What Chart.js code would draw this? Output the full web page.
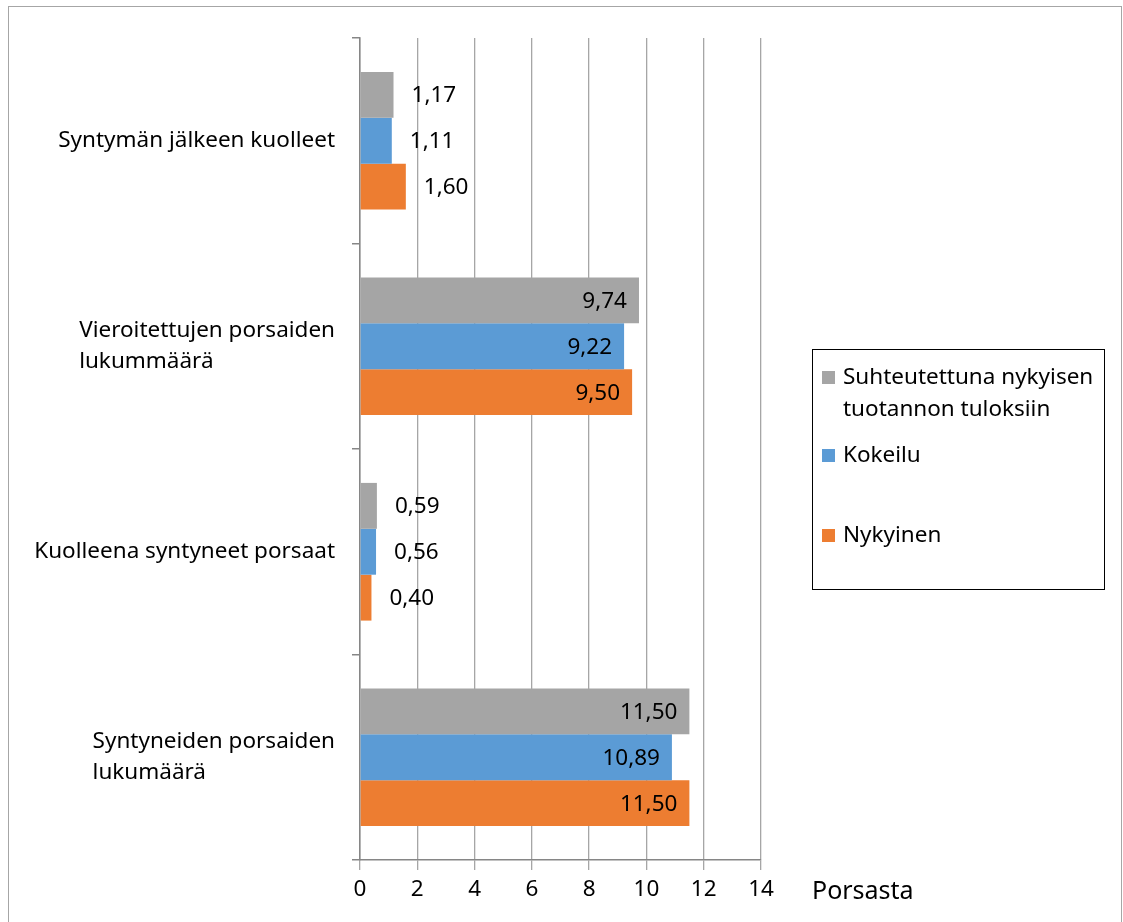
<!DOCTYPE html>
<html>
<head>
<meta charset="utf-8">
<script src="https://cdn.jsdelivr.net/npm/chart.js@4.4.0/dist/chart.umd.min.js"></script>
<style>
  body { margin: 0; background: #fff; }
  #wrap { position: relative; width: 1123px; height: 922px; }
  #frame { position: absolute; left: 8px; top: 6px; width: 1112px; height: 930px; border: 1.5px solid #a6a6a6; }
  #myChart { position: absolute; left: 0; top: 0; }
  #legend { position: absolute; left: 812px; top: 349px; width: 291px; height: 239px; border: 1.5px solid #000;
            font-family: 'Noto Sans', sans-serif; font-size: 22.5px; color: #000; }
  .item { position: absolute; left: 9px; display: flex; align-items: flex-start; line-height: 32px; white-space: nowrap; }
  .sw { width: 13px; height: 13px; margin-top: 11px; margin-right: 8px; flex: none; }
</style>
</head>
<body>
<div id="wrap">
  <div id="frame"></div>
  <canvas id="myChart" width="1123" height="922"></canvas>
  <div id="legend"></div>
</div>
<script>
var categories = [
    'Syntymän jälkeen kuolleet',
    ['Vieroitettujen porsaiden', 'lukummäärä'],
    'Kuolleena syntyneet porsaat',
    ['Syntyneiden porsaiden', 'lukumäärä']
];
var seriesNames = [
    ['Suhteutettuna nykyisen', 'tuotannon tuloksiin'],
    'Kokeilu',
    'Nykyinen'
];
var suhteutettu = [1.17, 9.74, 0.59, 11.50];
var kokeilu = [1.11, 9.22, 0.56, 10.89];
var nykyinen = [1.60, 9.50, 0.40, 11.50];
var xTicks = [0, 2, 4, 6, 8, 10, 12, 14];
var xTitle = 'Porsasta';

var colors = ['#a5a5a5', '#5b9bd5', '#ed7d31'];
var fontFamily = "'Noto Sans', sans-serif";
var fontSize = 22.5;

function fmt(v) {
    return v.toFixed(2).replace('.', ',');
}

var labelPlugin = {
    id: 'labels',
    afterDraw: function(chart) {
        var ctx = chart.ctx;
        var area = chart.chartArea;
        var yScale = chart.scales.y;
        ctx.save();
        ctx.fillStyle = '#000';
        ctx.font = fontSize + 'px ' + fontFamily;
        ctx.textBaseline = 'middle';

        // category labels: block right-aligned, lines left-aligned
        categories.forEach(function(cat, i) {
            var lines = Array.isArray(cat) ? cat : [cat];
            var maxW = 0;
            lines.forEach(function(l) { maxW = Math.max(maxW, ctx.measureText(l).width); });
            var x0 = area.left - 25 - maxW;
            var yc = yScale.getPixelForValue(i);
            var lh = 31;
            lines.forEach(function(l, k) {
                ctx.textAlign = 'left';
                ctx.fillText(l, x0, yc - (lines.length - 1) * lh / 2 + k * lh);
            });
        });

        // value labels
        chart.data.datasets.forEach(function(ds, di) {
            var meta = chart.getDatasetMeta(di);
            meta.data.forEach(function(bar, i) {
                var w = bar.x - bar.base;
                var txt = fmt(ds.data[i]);
                if (w > 80) {
                    ctx.textAlign = 'right';
                    ctx.fillText(txt, bar.x - 12, bar.y + 1);
                } else {
                    ctx.textAlign = 'left';
                    ctx.fillText(txt, bar.x + 18, bar.y + 1);
                }
            });
        });

        // axis title
        ctx.font = '25px ' + fontFamily;
        ctx.textAlign = 'left';
        ctx.fillText(xTitle, area.right + 51, area.bottom + 32);
        ctx.restore();
    }
};

var ctx = document.getElementById('myChart').getContext('2d');
var myChart = new Chart(ctx, {
    type: 'bar',
    data: {
        labels: categories,
        datasets: [{
            label: seriesNames[0],
            data: suhteutettu,
            backgroundColor: colors[0]
        },
        {
            label: seriesNames[1],
            data: kokeilu,
            backgroundColor: colors[1]
        },
        {
            label: seriesNames[2],
            data: nykyinen,
            backgroundColor: colors[2]
        }]
    },
    options: {
        indexAxis: 'y',
        responsive: false,
        animation: false,
        categoryPercentage: 0.67,
        barPercentage: 1.0,
        layout: {
            padding: { left: 350, right: 362, top: 38, bottom: 12 }
        },
        plugins: {
            legend: { display: false },
            tooltip: { enabled: false }
        },
        scales: {
            x: {
                min: 0,
                max: 14,
                afterBuildTicks: function(scale) {
                    scale.ticks = xTicks.map(function(v) { return { value: v }; });
                },
                afterFit: function(scale) { scale.height = 50; },
                border: { color: '#868686', width: 1.5 },
                grid: { color: '#a6a6a6', lineWidth: 1.3, tickLength: 10 },
                ticks: {
                    color: '#000',
                    padding: 6,
                    font: { family: fontFamily, size: fontSize }
                }
            },
            y: {
                afterFit: function(scale) { scale.width = 10; },
                border: { color: '#868686', width: 1.5 },
                grid: { offset: true, drawOnChartArea: false, color: '#868686', lineWidth: 1.5, tickLength: 8 },
                ticks: { display: false }
            }
        }
    },
    plugins: [labelPlugin]
});

// legend box
var legend = document.getElementById('legend');
var itemTops = [10, 88, 168];
myChart.data.datasets.forEach(function(ds, i) {
    var item = document.createElement('div');
    item.className = 'item';
    item.style.top = itemTops[i] + 'px';
    var sw = document.createElement('div');
    sw.className = 'sw';
    sw.style.background = ds.backgroundColor;
    var txt = document.createElement('div');
    txt.innerHTML = Array.isArray(ds.label) ? ds.label.join('<br>') : ds.label;
    item.appendChild(sw);
    item.appendChild(txt);
    legend.appendChild(item);
});
</script>
</body>
</html>
